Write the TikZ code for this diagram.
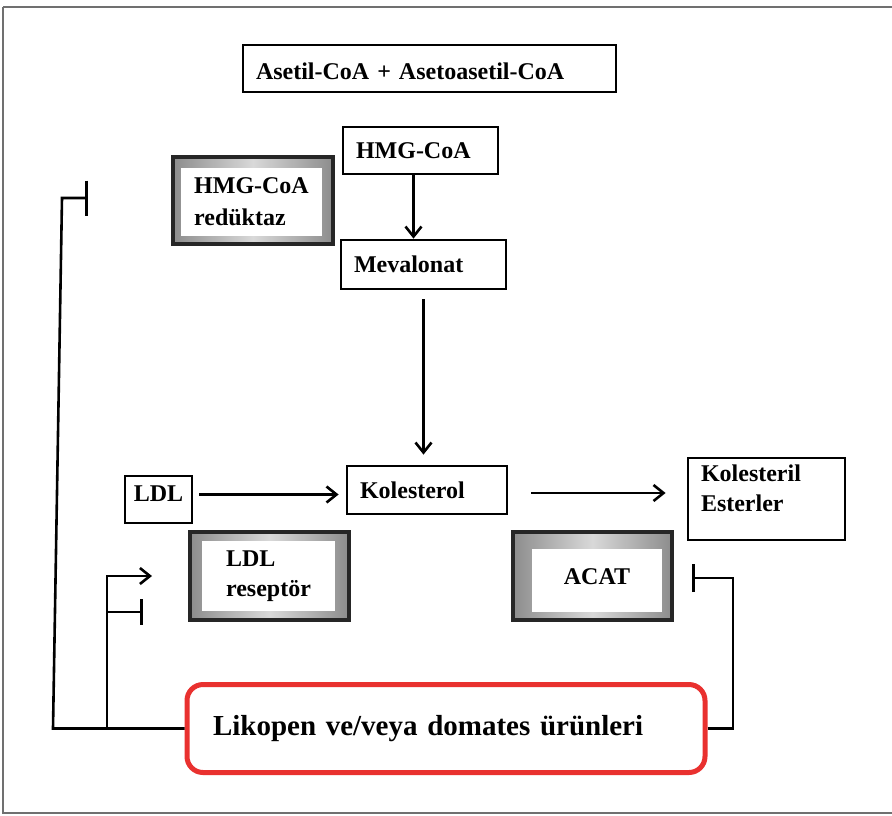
\documentclass[tikz,border=0pt]{standalone}
\usepackage{fontspec}
\setmainfont{Liberation Serif}
\usetikzlibrary{positioning,arrows.meta}
\definecolor{likred}{RGB}{233,49,47}
\definecolor{framegray}{RGB}{112,112,112}

\begin{document}
\begin{tikzpicture}[x=1pt,y=-1pt,font=\bfseries\fontsize{24}{30}\selectfont]
  \tikzstyle{box}=[draw,line width=2.8pt,inner xsep=13pt,inner ysep=0pt,align=left]
  \tikzstyle{enzfrm}=[draw=black!85,line width=4pt,left color=black!45,right color=black!45,middle color=black!15]
  \tikzstyle{enz}=[fill=white,inner sep=0pt,align=left]
  \tikzstyle{link}=[line width=2.6pt]
  \tikzstyle{act}=[link,-{Straight Barb[length=10pt,width=16pt]}]
  \useasboundingbox (0,0) rectangle (892,815);
  \draw[framegray,line width=2pt] (3,7) -- (900,7) (3,7) -- (3,813) -- (900,813);
  % pathway
  \node[box,text width=347pt,text height=23pt,minimum height=47pt] (ase) at (429.5,68.5) {Asetil-CoA + Asetoasetil-CoA};
  \node[box,text width=129pt,minimum height=47pt] (hmg) at (420.5,150.5) {HMG-CoA};
  \node[box,text width=139pt,minimum height=49pt] (mev) at (423.5,264.5) {Mevalonat};
  \node[box,text width=134pt,minimum height=48pt] (kol) at (427,490) {Kolesterol};
  \node[box,align=center,inner xsep=0pt,text depth=11pt,minimum width=67pt,minimum height=47pt] (ldl) at (158.5,499.5) {LDL};
  \node[box,text width=131pt,text depth=52pt,minimum height=82pt] (kest) at (766.5,499) {Kolesteril\\Esterler};
  % enzymes
  \node[enzfrm,minimum width=160pt,minimum height=87pt] (redF) at (253,200.5) {};
  \node[enz,minimum width=141pt,minimum height=68pt] (red) at (251.5,202) {HMG-CoA\\[2pt]redüktaz};
  \node[enzfrm,minimum width=159pt,minimum height=88pt] (recF) at (269.5,576) {};
  \node[enz,minimum width=133pt,minimum height=70pt] (rec) at (268.5,576) {LDL\\reseptör};
  \node[enzfrm,minimum width=159pt,minimum height=88pt] (acatF) at (592.5,576) {};
  \node[enz,text depth=8pt,minimum width=130pt,minimum height=63pt] (acat) at (597,580.5) {ACAT};
  % lycopene
  \node[draw=likred,line width=5pt,rounded corners=16pt,text width=466pt,inner xsep=26pt,minimum height=88pt,align=left,
        font=\bfseries\fontsize{29}{34}\selectfont] (lik) at (446,728.5) {Likopen ve/veya domates ürünleri};
  \draw[act] ([xshift=-7pt]hmg.south) -- ([xshift=-7pt]hmg.south |- mev.north);
  \draw[act] ([yshift=-9pt]mev.south) -- ([yshift=10pt]mev.south |- kol.north);
  \draw[act] ([xshift=6pt,yshift=5pt]ldl.east) -- ([xshift=-7pt,yshift=5pt]ldl.east -| kol.west);
  \draw[act] ([xshift=23pt,yshift=-3pt]kol.east) -- ([xshift=-21pt,yshift=-3pt]kol.east -| kest.west);
  % feedback
  \coordinate (fbL) at (53,728.5);
  \coordinate (fbT) at (62,198);
  \coordinate (redI) at (88,198);
  \coordinate (fbM) at (107,728.5);
  \coordinate (recA) at (152,576);
  \coordinate (recB) at (107,612);
  \coordinate (recI) at (143,612);
  \coordinate (fbR) at (733,728.5);
  \coordinate (acatI) at (692,578);
  \draw[link,-{Bar[width=35pt]}] (lik.west) -- (fbL) -- (fbT) -- (redI);
  \draw[act] (fbM) |- (recA);
  \draw[link,-{Bar[width=26pt]}] (recB) -- (recI);
  \draw[link,-{Bar[width=28pt]}] (lik.east) -- (fbR) |- (acatI);
\end{tikzpicture}
\end{document}
